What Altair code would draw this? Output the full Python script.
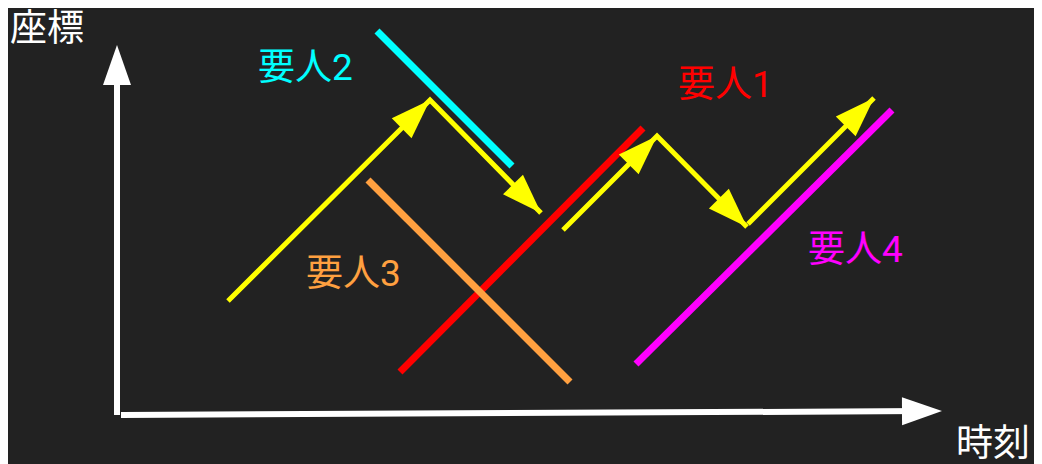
import altair as alt
import pandas as pd
import numpy as np

# ---- canvas / coordinate system (time t to the right, position p upward) ----
BG = "#222222"
W, H = 1026, 456
T_DOMAIN = [-110, 916]
P_DOMAIN = [-51, 405]

# ---- 要人 trajectories ----
person_names = ["要人1", "要人2", "要人3", "要人4"]
person_colors = ["#ff0000", "#00ffff", "#ffa040", "#ff00ff"]
person_t0 = [282, 259, 250, 518]
person_p0 = [41, 382, 233, 49]
person_t1 = [525, 394, 452, 774]
person_p1 = [285, 247, 31, 303]
label_t = [560, 140, 188, 690]
label_p = [316, 333, 127, 151]

# ---- yellow pursuit path (three polylines) ----
path_id = ["A", "A", "A", "B", "B", "B", "C", "C"]
path_t = [110, 312, 423, 445, 539, 629, 630, 756]
path_p = [112, 313, 200, 183, 277, 186, 189, 315]

# ---- axes ----
axis_names = ["座標", "時刻"]
axis_t0 = [-1, 3]
axis_p0 = [-2, -2]
axis_t1 = [-1, 824]
axis_p1 = [368, 2]
axis_label_t = [-108, 838]
axis_label_p = [372, -43]

HEAD_SHAPE = "M0,0L0.7,2L-0.7,2Z"
HEAD_SIZE = 1600
FONT = "Roboto, 'Noto Sans CJK JP'"
FONT_SIZE = 37

xs = alt.Scale(domain=T_DOMAIN, nice=False, zero=False)
ys = alt.Scale(domain=P_DOMAIN, nice=False, zero=False)


def angle(dt, dp):
    return float(np.degrees(np.arctan2(dt, dp)))


persons = pd.DataFrame({
    "name": person_names, "color": person_colors,
    "t0": person_t0, "p0": person_p0, "t1": person_t1, "p1": person_p1,
    "lt": label_t, "lp": label_p,
})

path = pd.DataFrame({"path": path_id, "t": path_t, "p": path_p})
path["seq"] = range(len(path))

heads = []
for pid in dict.fromkeys(path_id):
    sub = path[path["path"] == pid].reset_index(drop=True)
    for i in range(1, len(sub)):
        heads.append({
            "t": sub.t[i], "p": sub.p[i],
            "ang": angle(sub.t[i] - sub.t[i - 1], sub.p[i] - sub.p[i - 1]),
            "color": "#ffff00",
        })

axes_rows = []
for i in range(len(axis_names)):
    dt = axis_t1[i] - axis_t0[i]
    dp = axis_p1[i] - axis_p0[i]
    n = np.hypot(dt, dp)
    axes_rows.append({
        "name": axis_names[i],
        "t0": axis_t0[i], "p0": axis_p0[i],
        "te": axis_t1[i] - 20 * dt / n, "pe": axis_p1[i] - 20 * dp / n,
        "t1": axis_t1[i], "p1": axis_p1[i],
        "ang": angle(dt, dp), "color": "#ffffff",
        "lt": axis_label_t[i], "lp": axis_label_p[i],
    })
axes_df = pd.DataFrame(axes_rows)
heads_df = pd.concat([pd.DataFrame(heads), axes_df[["t1", "p1", "ang", "color"]]
                      .rename(columns={"t1": "t", "p1": "p"})], ignore_index=True)

X = lambda f: alt.X(f, scale=xs, axis=None)
Y = lambda f: alt.Y(f, scale=ys, axis=None)

person_lines = alt.Chart(persons).mark_rule(strokeWidth=7, strokeCap="butt").encode(
    x=X("t0:Q"), y=Y("p0:Q"), x2="t1:Q", y2="p1:Q",
    color=alt.Color("color:N", scale=None),
)

yellow = alt.Chart(path).mark_line(color="#ffff00", strokeWidth=5, strokeJoin="miter",
                                   strokeCap="butt").encode(
    x=X("t:Q"), y=Y("p:Q"), detail="path:N", order="seq:Q",
)

axis_lines = alt.Chart(axes_df).mark_rule(strokeWidth=6, strokeCap="butt", color="#ffffff").encode(
    x=X("t0:Q"), y=Y("p0:Q"), x2="te:Q", y2="pe:Q",
)

arrow_heads = alt.Chart(heads_df).mark_point(
    shape=HEAD_SHAPE, size=HEAD_SIZE, filled=True, opacity=1, strokeWidth=0
).encode(
    x=X("t:Q"), y=Y("p:Q"), angle=alt.Angle("ang:Q", scale=None),
    color=alt.Color("color:N", scale=None),
)

person_labels = alt.Chart(persons).mark_text(
    font=FONT, fontSize=FONT_SIZE, align="left", baseline="alphabetic"
).encode(
    x=X("lt:Q"), y=Y("lp:Q"), text="name:N", color=alt.Color("color:N", scale=None),
)

axis_labels = alt.Chart(axes_df).mark_text(
    font=FONT, fontSize=FONT_SIZE, align="left", baseline="alphabetic", color="#ffffff"
).encode(
    x=X("lt:Q"), y=Y("lp:Q"), text="name:N",
)

chart = alt.layer(
    axis_lines, person_lines, yellow, arrow_heads, person_labels, axis_labels
).properties(
    width=W, height=H, background=BG, padding=0,
    autosize=alt.AutoSizeParams(type="none"),
).configure_view(stroke=None)

chart.save("out.html", embed_options={"renderer": "svg", "actions": False})
